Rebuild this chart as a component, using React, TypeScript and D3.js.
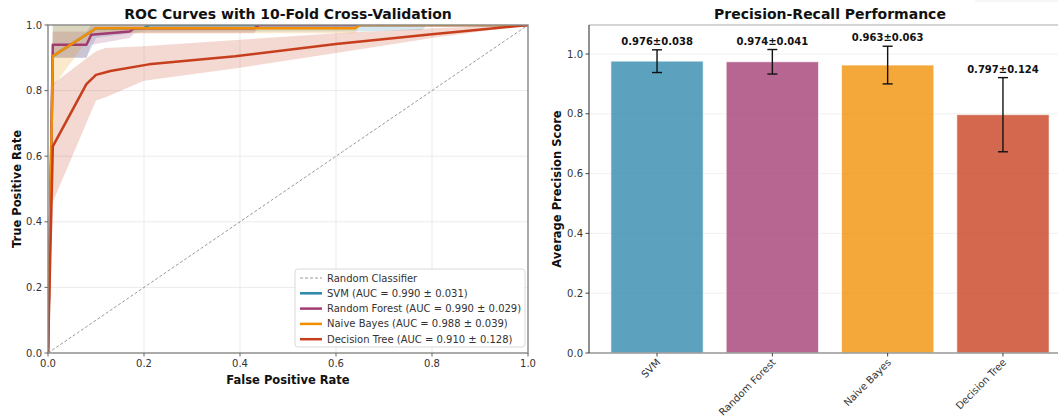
import React from "react";
import * as d3 from "d3";

// model names + colours
const models = ["SVM", "Random Forest", "Naive Bayes", "Decision Tree"];
const colors = ["#2E86AB", "#A23B72", "#F18F01", "#C73E1D"];

const aucMean = [0.99, 0.99, 0.988, 0.91];
const aucStd = [0.031, 0.029, 0.039, 0.128];

// average precision (right panel)
const apMean = [0.976, 0.974, 0.963, 0.797];
const apStd = [0.038, 0.041, 0.063, 0.124];

// mean ROC curves [fpr, tpr]
const rocSvm = [[0, 0], [0.01, 0.905], [0.09, 0.98], [0.1, 0.99], [0.2, 0.99], [0.21, 1], [1, 1]];
const rocRf = [[0, 0], [0.01, 0.94], [0.08, 0.94], [0.09, 0.97], [0.17, 0.98], [0.18, 0.99], [0.43, 0.99], [0.44, 1], [1, 1]];
const rocNb = [[0, 0], [0.01, 0.905], [0.09, 0.98], [0.1, 0.99], [0.64, 0.99], [0.65, 1], [1, 1]];
const rocDt = [[0, 0], [0.01, 0.63], [0.08, 0.82], [0.1, 0.848], [0.13, 0.86], [0.21, 0.88], [0.39, 0.905], [0.6, 0.942], [0.8, 0.972], [1, 1]];

// +/- 1 std bands [fpr, lower, upper]
const bandSvm = [[0, 0, 0], [0.01, 0.9, 1], [0.08, 0.9, 1], [0.09, 0.93, 1], [0.1, 0.96, 1], [0.2, 0.98, 1], [0.64, 0.98, 1], [0.78, 0.985, 1], [0.79, 1, 1], [1, 1, 1]];
const bandRf = [[0, 0, 0], [0.01, 0.9, 0.98], [0.08, 0.9, 0.98], [0.09, 0.94, 1], [0.17, 0.96, 1], [0.18, 0.975, 1], [0.43, 0.975, 1], [0.44, 1, 1], [1, 1, 1]];
const bandNb = [[0, 0, 0], [0.01, 0.81, 1], [0.09, 0.97, 1], [0.1, 0.975, 1], [0.64, 0.975, 1], [0.65, 1, 1], [1, 1, 1]];
const bandDt = [[0, 0, 0], [0.01, 0.46, 0.82], [0.1, 0.77, 0.92], [0.12, 0.78, 0.93], [0.2, 0.83, 0.935], [0.4, 0.87, 0.955], [0.6, 0.915, 0.975], [0.8, 0.96, 0.99], [1, 1, 1]];

const rocCurves = [rocSvm, rocRf, rocNb, rocDt];
const rocBands = [bandSvm, bandRf, bandNb, bandDt];

const ticks01 = [0, 0.2, 0.4, 0.6, 0.8, 1.0];

const FONT = "DejaVu Sans, sans-serif";

function RocPanel() {
  const m = { left: 48, right: 528, top: 25, bottom: 353 };
  const x = d3.scaleLinear().domain([0, 1]).range([m.left, m.right]);
  const y = d3.scaleLinear().domain([0, 1]).range([m.bottom, m.top]);
  const line = d3.line<number[]>().x((d) => x(d[0])).y((d) => y(d[1]));
  const area = d3
    .area<number[]>()
    .x((d) => x(d[0]))
    .y0((d) => y(d[1]))
    .y1((d) => y(d[2]));

  const legendItems = [
    { label: "Random Classifier", color: "#999", dash: "3,2", w: 1 },
    ...models.map((name, i) => ({
      label: `${name} (AUC = ${aucMean[i].toFixed(3)} ± ${aucStd[i].toFixed(3)})`,
      color: colors[i],
      dash: undefined,
      w: 2.5,
    })),
  ];
  const lx = 295;
  const ly = 269;

  return (
    <g>
      <text x={(m.left + m.right) / 2} y={19} textAnchor="middle" fontSize={14} fontWeight="bold" fill="#111">
        ROC Curves with 10-Fold Cross-Validation
      </text>
      {/* grid */}
      {ticks01.map((t) => (
        <g key={"g" + t}>
          <line x1={x(t)} x2={x(t)} y1={m.top} y2={m.bottom} stroke="#e6e6e6" strokeWidth={0.8} />
          <line x1={m.left} x2={m.right} y1={y(t)} y2={y(t)} stroke="#e6e6e6" strokeWidth={0.8} />
        </g>
      ))}
      <defs>
        <clipPath id="rocClip">
          <rect x={m.left} y={m.top} width={m.right - m.left} height={m.bottom - m.top} />
        </clipPath>
      </defs>
      <g clipPath="url(#rocClip)">
        <line x1={x(0)} y1={y(0)} x2={x(1)} y2={y(1)} stroke="#808080" strokeOpacity={0.8} strokeWidth={1} strokeDasharray="3,2" />
        {rocBands.map((b, i) => (
          <path key={"b" + i} d={area(b) || ""} fill={colors[i]} fillOpacity={0.2} stroke="none" />
        ))}
        {rocCurves.map((c, i) => (
          <path key={"c" + i} d={line(c) || ""} fill="none" stroke={colors[i]} strokeWidth={2.5} strokeLinejoin="round" />
        ))}
      </g>
      {/* spines */}
      <rect x={m.left} y={m.top} width={m.right - m.left} height={m.bottom - m.top} fill="none" stroke="#8a8a8a" strokeWidth={1.4} />
      {ticks01.map((t) => (
        <g key={"t" + t} fontSize={10} fill="#333">
          <line x1={x(t)} x2={x(t)} y1={m.bottom} y2={m.bottom + 3.5} stroke="#666" />
          <text x={x(t)} y={m.bottom + 14} textAnchor="middle">{t.toFixed(1)}</text>
          <line x1={m.left - 3.5} x2={m.left} y1={y(t)} y2={y(t)} stroke="#666" />
          <text x={m.left - 6} y={y(t) + 3.5} textAnchor="end">{t.toFixed(1)}</text>
        </g>
      ))}
      <text x={(m.left + m.right) / 2} y={384} textAnchor="middle" fontSize={11.5} fontWeight="bold" fill="#111">
        False Positive Rate
      </text>
      <text transform={`translate(21,${(m.top + m.bottom) / 2}) rotate(-90)`} textAnchor="middle" fontSize={11.5} fontWeight="bold" fill="#111">
        True Positive Rate
      </text>
      {/* legend */}
      <rect x={lx} y={ly} width={230} height={78} rx={3} fill="#fff" fillOpacity={0.85} stroke="#d0d0d0" strokeWidth={0.8} />
      {legendItems.map((it, i) => (
        <g key={"l" + i}>
          <line x1={lx + 5} x2={lx + 27} y1={ly + 9 + i * 15.3} y2={ly + 9 + i * 15.3} stroke={it.color} strokeWidth={it.w} strokeDasharray={it.dash} />
          <text x={lx + 32} y={ly + 12.5 + i * 15.3} fontSize={10} fill="#333">{it.label}</text>
        </g>
      ))}
    </g>
  );
}

function PrPanel() {
  const m = { left: 589, right: 1071, top: 25, bottom: 353 };
  const x = d3.scaleLinear().domain([-0.59, 3.59]).range([m.left, m.right]);
  const y = d3.scaleLinear().domain([0, 1.097]).range([m.bottom, m.top]);
  const step = x(1) - x(0);
  const bw = step * 0.8;

  return (
    <g>
      <text x={830} y={19} textAnchor="middle" fontSize={14} fontWeight="bold" fill="#111">
        Precision-Recall Performance
      </text>
      {ticks01.map((t) => (
        <line key={"g" + t} x1={m.left} x2={m.right} y1={y(t)} y2={y(t)} stroke="#ececec" strokeWidth={0.8} />
      ))}
      {models.map((name, i) => (
        <rect key={name} x={x(i) - bw / 2} y={y(apMean[i])} width={bw} height={y(0) - y(apMean[i])} fill={colors[i]} fillOpacity={0.78} stroke="#fff" strokeOpacity={0.6} strokeWidth={1} />
      ))}
      {models.map((name, i) => {
        const cx = x(i);
        const top = y(apMean[i] + apStd[i]);
        const bot = y(apMean[i] - apStd[i]);
        return (
          <g key={"e" + name} stroke="#111" strokeWidth={1.4}>
            <line x1={cx} x2={cx} y1={top} y2={bot} />
            <line x1={cx - 5} x2={cx + 5} y1={top} y2={top} />
            <line x1={cx - 5} x2={cx + 5} y1={bot} y2={bot} />
          </g>
        );
      })}
      {models.map((name, i) => (
        <text key={"v" + name} x={x(i)} y={y(apMean[i] + apStd[i]) - 5} textAnchor="middle" fontSize={10} fontWeight="bold" fill="#111">
          {`${apMean[i].toFixed(3)}±${apStd[i].toFixed(3)}`}
        </text>
      ))}
      {/* spines */}
      <line x1={m.left} x2={m.right} y1={m.top} y2={m.top} stroke="#aaa" strokeWidth={1.2} />
      <line x1={m.left} x2={m.right} y1={m.bottom} y2={m.bottom} stroke="#999" strokeWidth={1.4} />
      <line x1={m.left} x2={m.left} y1={m.top} y2={m.bottom} stroke="#222" strokeWidth={1} />
      {ticks01.map((t) => (
        <g key={"yt" + t}>
          <line x1={m.left - 3.5} x2={m.left} y1={y(t)} y2={y(t)} stroke="#444" />
          <text x={m.left - 6} y={y(t) + 3.5} textAnchor="end" fontSize={10} fill="#333">{t.toFixed(1)}</text>
        </g>
      ))}
      {models.map((name, i) => (
        <g key={"xt" + name}>
          <line x1={x(i)} x2={x(i)} y1={m.bottom} y2={m.bottom + 3.5} stroke="#444" />
          <text transform={`translate(${x(i) + 4},${m.bottom + 10}) rotate(-45)`} textAnchor="end" fontSize={10} fill="#333">
            {name}
          </text>
        </g>
      ))}
      <text transform={`translate(561,${(m.top + m.bottom) / 2}) rotate(-90)`} textAnchor="middle" fontSize={11.5} fontWeight="bold" fill="#111">
        Average Precision Score
      </text>
      <line x1={975} x2={1058} y1={1} y2={1} stroke="#eee" strokeWidth={1} />
    </g>
  );
}

export default function App() {
  return (
    <svg width={1058} height={416} style={{ position: "absolute", left: 0, top: 0, background: "#fff" }} fontFamily={FONT}>
      <rect width={1058} height={416} fill="#fff" />
      <RocPanel />
      <PrPanel />
    </svg>
  );
}
